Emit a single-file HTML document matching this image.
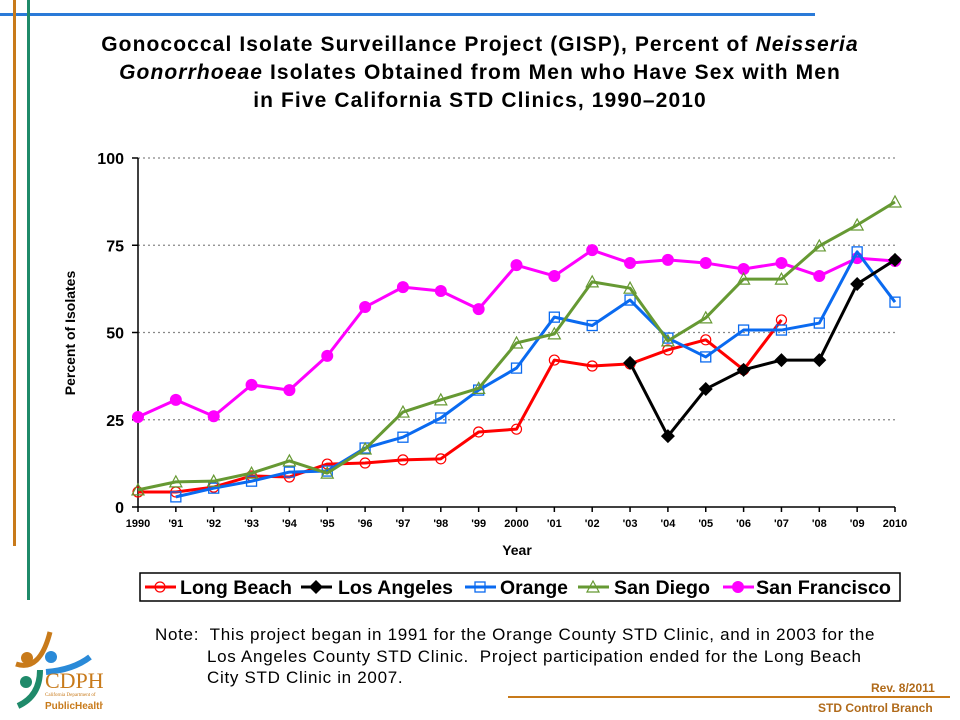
<!DOCTYPE html>
<html><head><meta charset="utf-8"><style>
body{margin:0;width:960px;height:720px;background:#fff;overflow:hidden;font-family:"Liberation Sans",sans-serif;position:relative}
.abs{position:absolute}
</style></head><body>
<div class="abs" style="left:0;top:13px;width:815px;height:3px;background:#2a7ad8"></div>
<div class="abs" style="left:13px;top:0;width:3px;height:546px;background:#c87a1a"></div>
<div class="abs" style="left:27px;top:0;width:3px;height:600px;background:#1f8a6a"></div>
<div class="abs" style="left:508px;top:696px;width:442px;height:2px;background:#c87a1a"></div>
<div class="abs" style="left:20px;top:31px;width:920px;text-align:center;font-weight:bold;font-size:21px;letter-spacing:1.1px;line-height:28px;color:#000;white-space:nowrap">Gonococcal Isolate Surveillance Project (GISP), Percent of <i>Neisseria</i><br><i>Gonorrhoeae</i> Isolates Obtained from Men who Have Sex with Men<br>in Five California STD Clinics, 1990–2010</div>
<svg class="abs" style="left:0;top:0" width="960" height="720">
<g id="grid"></g><g id="axes"></g><g id="series"></g>
<text x="75" y="333" transform="rotate(-90 75 333)" text-anchor="middle" font-size="14" font-weight="bold" font-family="Liberation Sans">Percent of Isolates</text>
<text x="517" y="555" text-anchor="middle" font-size="14" font-weight="bold" font-family="Liberation Sans">Year</text>
<rect x="140" y="573" width="760" height="28" fill="#fff" stroke="#000" stroke-width="1.5"/>
<g id="legend"></g>
</svg>
<div class="abs" style="left:155px;top:624px;font-size:17px;line-height:21.5px;color:#000;letter-spacing:0.7px;white-space:nowrap">
<div>Note:&nbsp; This project began in 1991 for the Orange County STD Clinic, and in 2003 for the</div>
<div style="padding-left:52px">Los Angeles County STD Clinic.&nbsp; Project participation ended for the Long Beach</div>
<div style="padding-left:52px">City STD Clinic in 2007.</div></div>
<div class="abs" style="left:871px;top:681px;font-size:12px;font-weight:bold;color:#b06a1a">Rev. 8/2011</div>
<div class="abs" style="left:818px;top:701px;font-size:12px;font-weight:bold;color:#b06a1a">STD Control Branch</div>
<div class="abs" style="left:8px;top:630px;width:95px;height:85px">
<svg width="95" height="85"><circle cx="19" cy="28" r="6" fill="#c87a1a"/><circle cx="43" cy="27" r="6" fill="#2a8ad8"/><path d="M8 34 Q32 42 42 2" stroke="#c87a1a" stroke-width="5" fill="none"/><path d="M38 42 Q65 40 82 27" stroke="#2a8ad8" stroke-width="6" fill="none"/><circle cx="18" cy="52" r="6" fill="#1f8a6a"/><path d="M32 40 Q32 66 10 76" stroke="#1f8a6a" stroke-width="6" fill="none"/>
<text x="37" y="58" font-size="22" fill="#c87a1a" font-family="Liberation Serif">CDPH</text>
<text x="37" y="66" font-size="5" fill="#c87a1a" font-family="Liberation Serif">California Department of</text>
<text x="37" y="79" font-size="10" font-weight="bold" fill="#c87a1a" font-family="Liberation Sans">PublicHealth</text></svg></div>
<script>
const years=["1990","'91","'92","'93","'94","'95","'96","'97","'98","'99","2000","'01","'02","'03","'04","'05","'06","'07","'08","'09","2010"];
const yTicks=[0,25,50,75,100];
const longBeach=[4.3,4.3,5.7,8.9,8.6,12.3,12.6,13.5,13.8,21.5,22.3,42.1,40.4,41,45,47.9,39.3,53.6,null,null,null];
const losAngeles=[null,null,null,null,null,null,null,null,null,null,null,null,null,41.3,20.3,33.8,39.3,42.1,42.1,63.9,70.8];
const orange=[null,2.9,5.4,7.4,10,10.3,16.9,20,25.5,33.5,39.8,54.4,52,59.3,48.4,43,50.7,50.7,52.7,73.1,58.7];
const sanDiego=[4.9,7.2,7.4,9.7,13.2,9.7,16.6,27.2,30.7,34,47,49.6,64.5,62.7,47.6,54.2,65.3,65.3,74.8,80.8,87.4];
const sanFrancisco=[25.8,30.7,26,35,33.5,43.3,57.3,63,61.9,56.7,69.3,66.2,73.6,69.9,70.8,69.9,68.2,69.9,66.2,71.3,70.5];
const NS="http://www.w3.org/2000/svg";
const x0=138,x1=895,yTop=158,yBot=507;
const X=i=>x0+(x1-x0)*i/(years.length-1);
const Y=v=>yBot-(yBot-yTop)*v/100;
function mk(t,a,p){const e=document.createElementNS(NS,t);for(const k in a)e.setAttribute(k,a[k]);p.appendChild(e);return e;}
const grid=document.getElementById('grid'),axes=document.getElementById('axes'),ser=document.getElementById('series'),leg=document.getElementById('legend');
yTicks.forEach(v=>{
 if(v>0){const g=mk('line',{x1:x0,x2:x1,y1:Y(v),y2:Y(v),stroke:'#888','stroke-dasharray':'2,3','stroke-width':1.2},grid);
 
 }
 mk('line',{x1:x0-6,x2:x0,y1:Y(v),y2:Y(v),stroke:'#000','stroke-width':1.5},axes);
 const t=mk('text',{x:x0-14,y:Y(v)+6,'text-anchor':'end','font-size':16,'font-weight':'bold','font-family':'Liberation Sans'},axes);t.textContent=v;
 
 
});
mk('line',{x1:x0,x2:x0,y1:yTop,y2:yBot,stroke:'#000','stroke-width':1.5},axes);
mk('line',{x1:x0,x2:x1,y1:yBot,y2:yBot,stroke:'#000','stroke-width':1.5},axes);
years.forEach((y,i)=>{
 mk('line',{x1:X(i),x2:X(i),y1:yBot,y2:yBot+5,stroke:'#000','stroke-width':1.5},axes);
 const t=mk('text',{x:X(i),y:yBot+20,'text-anchor':'middle','font-size':11,'font-weight':'bold','font-family':'Liberation Sans'},axes);t.textContent=y;
 
 
});
function marker(kind,color,cx,cy,p){
 if(kind==='circle')return mk('circle',{cx:cx,cy:cy,r:5,fill:'none',stroke:color,'stroke-width':1.2},p);
 if(kind==='diamond')return mk('polygon',{points:`${cx},${cy-7} ${cx+7},${cy} ${cx},${cy+7} ${cx-7},${cy}`,fill:color},p);
 if(kind==='square')return mk('rect',{x:cx-5,y:cy-5,width:10,height:10,fill:'none',stroke:color,'stroke-width':1.3},p);
 if(kind==='triangle')return mk('polygon',{points:`${cx},${cy-6} ${cx+6},${cy+5} ${cx-6},${cy+5}`,fill:'none',stroke:color,'stroke-width':1.2},p);
 return mk('circle',{cx:cx,cy:cy,r:6,fill:color},p);
}
const defs=[["Long Beach",longBeach,'#ff0000','circle'],["Los Angeles",losAngeles,'#000000','diamond'],["Orange",orange,'#0a6af0','square'],["San Diego",sanDiego,'#669933','triangle'],["San Francisco",sanFrancisco,'#ff00ff','dot']];
const drawOrder=[4,0,2,3,1];
drawOrder.forEach(k=>{const [name,vals,col,kind]=defs[k];
 const g=mk('g',{},ser);
 
 
 let d='';vals.forEach((v,i)=>{if(v==null)return;d+=(d?'L':'M')+X(i)+' '+Y(v);});
 mk('path',{d:d,fill:'none',stroke:col,'stroke-width':3,'stroke-linejoin':'round'},g);
 vals.forEach((v,i)=>{if(v==null)return;const m=marker(kind,col,X(i),Y(v),g);
  
  });
});
const lx=[145,301,465,578,723];
const tx=[180,338,500,614,756];
const tw=[112,115,68,96,135];
defs.forEach(([name,vals,col,kind],k)=>{
 const g=mk('g',{},leg);
 
 
 mk('line',{x1:lx[k],x2:lx[k]+31,y1:587,y2:587,stroke:col,'stroke-width':3},g);
 marker(kind,col,lx[k]+15,587,g);
 const t=mk('text',{x:tx[k],y:594,'font-size':19,'font-weight':'bold','font-family':'Liberation Sans',textLength:tw[k],lengthAdjust:'spacingAndGlyphs'},g);t.textContent=name;
});
</script>
</body></html>
